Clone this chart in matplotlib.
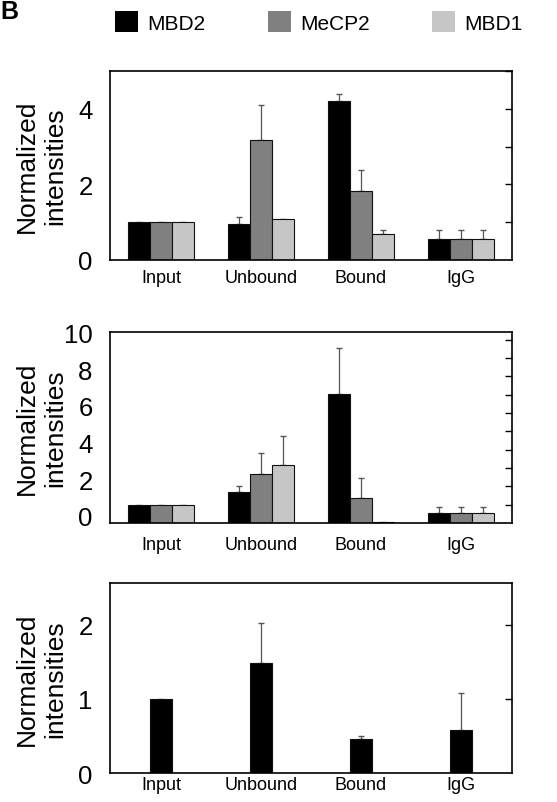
import numpy as np
import matplotlib
matplotlib.use("Agg")
import matplotlib.pyplot as plt
from matplotlib.patches import Patch

plt.rcParams['font.family'] = ['Liberation Sans', 'DejaVu Sans']

# data
groups = ["Input", "Unbound", "Bound", "IgG"]
proteins = ["MBD2", "MeCP2", "MBD1"]
colors = ["#000000", "#808080", "#c6c6c6"]

# panel 1
p1_mbd2 = [1.0, 0.95, 4.2, 0.56]
p1_mecp2 = [1.0, 3.17, 1.83, 0.56]
p1_mbd1 = [1.0, 1.09, 0.68, 0.56]
p1_mbd2_err = [np.nan, 0.18, 0.20, 0.24]
p1_mecp2_err = [np.nan, 0.94, 0.54, 0.24]
p1_mbd1_err = [np.nan, np.nan, 0.12, 0.24]

# panel 2
p2_mbd2 = [1.0, 1.67, 7.05, 0.54]
p2_mecp2 = [1.0, 2.66, 1.39, 0.54]
p2_mbd1 = [1.0, 3.15, 0.07, 0.54]
p2_mbd2_err = [np.nan, 0.36, 2.5, 0.31]
p2_mecp2_err = [np.nan, 1.14, 1.04, 0.31]
p2_mbd1_err = [np.nan, 1.61, np.nan, 0.31]

# panel 3 (MBD2 only)
p3_mbd2 = [1.0, 1.48, 0.46, 0.58]
p3_mbd2_err = [np.nan, 0.54, 0.04, 0.50]


def draw_panel(ax, series, errs, ylim, label_ticks, label_offset, xpad):
    x = np.arange(len(groups))
    width = 0.22
    n = len(series)
    for i, (vals, err) in enumerate(zip(series, errs)):
        pos = x + (i - (n - 1) / 2) * width
        ax.bar(pos, vals, width, color=colors[i], edgecolor="#111111",
               linewidth=0.8, zorder=2)
        err = np.array(err)
        ax.errorbar(pos, vals, yerr=[np.zeros_like(err), err], fmt="none",
                    ecolor="#555555", elinewidth=0.9, capsize=2.5,
                    capthick=1.0, zorder=1)
    ax.set_xlim(-0.51, 3.51)
    ax.set_ylim(*ylim)
    ax.set_xticks(x)
    ax.set_xticklabels(groups, fontsize=13)
    ax.tick_params(axis="x", length=0, pad=xpad)
    # labels on the left, inward ticks on the right
    ax.yaxis.remove_overlapping_locs = False
    ax.set_yticks(np.array(label_ticks) + label_offset)
    ax.set_yticklabels([str(t) for t in label_ticks], fontsize=18.5)
    ax.set_yticks(np.arange(1, int(ylim[1]) + 1), minor=True)
    ax.tick_params(axis="y", which="major", left=False, right=False, pad=9)
    ax.tick_params(axis="y", which="minor", left=False, right=True,
                   direction="in", length=5, width=1.0)
    for sp in ax.spines.values():
        sp.set_linewidth(1.2)
    ax.set_ylabel("Normalized\nintensities", fontsize=19, ha="center",
                  va="center")
    ax.yaxis.set_label_coords(-0.172, 0.5)


fig = plt.figure(figsize=(5.57, 8.03), dpi=100)
ax1 = fig.add_axes([0.1975, 0.675, 0.7217, 0.2354])
ax2 = fig.add_axes([0.1975, 0.3474, 0.7217, 0.2375])
ax3 = fig.add_axes([0.1975, 0.0361, 0.7217, 0.2362])

draw_panel(ax1, [p1_mbd2, p1_mecp2, p1_mbd1],
           [p1_mbd2_err, p1_mecp2_err, p1_mbd1_err],
           (0, 5.0), [0, 2, 4], 0.0, 6.5)
draw_panel(ax2, [p2_mbd2, p2_mecp2, p2_mbd1],
           [p2_mbd2_err, p2_mecp2_err, p2_mbd1_err],
           (0, 10.4), [0, 2, 4, 6, 8, 10], 0.4, 9.5)
draw_panel(ax3, [p3_mbd2], [p3_mbd2_err],
           (0, 2.56), [0, 1, 2], 0.0, 2.0)

handles = [Patch(facecolor=c, edgecolor="none") for c in colors]
fig.legend(handles, proteins, loc="center left",
           bbox_to_anchor=(115 / 557, 1 - 23 / 803), ncol=3, frameon=False,
           fontsize=15, handlelength=1.1, handleheight=1.15,
           handletextpad=0.45, columnspacing=3.0, borderpad=0,
           borderaxespad=0)

fig.text(0.0, 1 - 19 / 803, "B", fontsize=18, fontweight="bold",
         va="baseline", ha="left")

fig.savefig("out.png", dpi=100)
